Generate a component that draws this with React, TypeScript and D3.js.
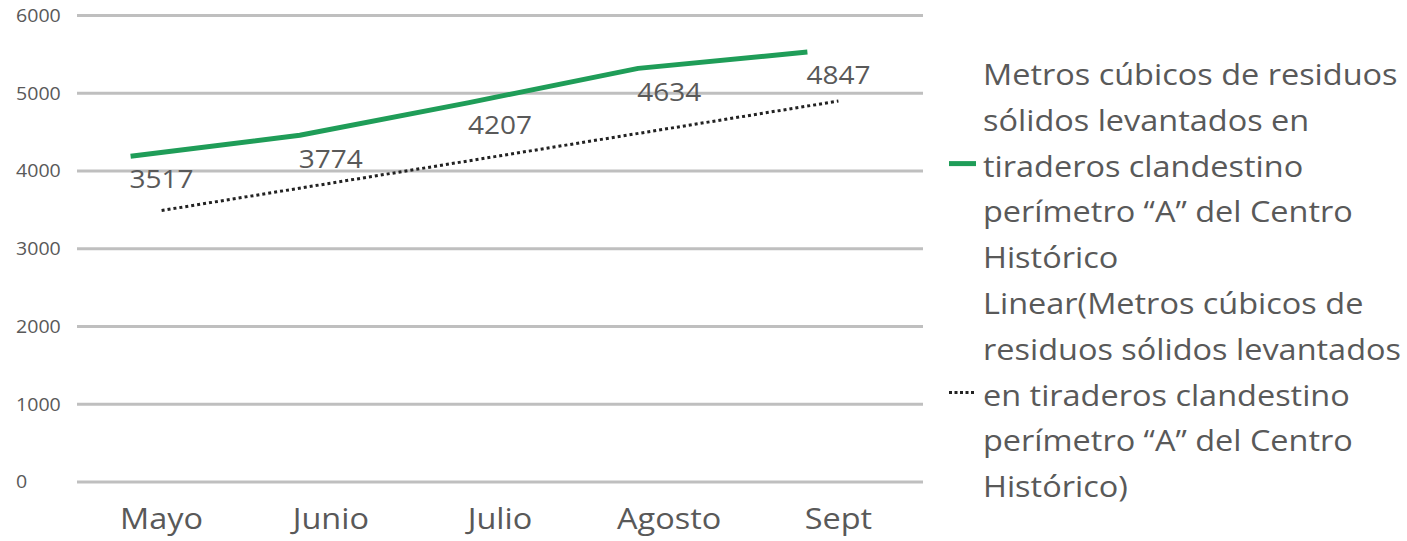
import { useEffect, useRef } from "react";
import * as d3 from "d3";

const months = ["Mayo", "Junio", "Julio", "Agosto", "Sept"];
// plotted green line
const lineValues = [4190, 4460, 4880, 5320, 5530];
// data labels as printed on the chart
const labelValues = [3517, 3774, 4207, 4634, 4847];
const yTicks = [0, 1000, 2000, 3000, 4000, 5000, 6000];

const legendMain = [
  "Metros cúbicos de residuos",
  "sólidos levantados en",
  "tiraderos clandestino",
  "perímetro “A” del Centro",
  "Histórico",
];
const legendTrend = [
  "Linear(Metros cúbicos de",
  "residuos sólidos levantados",
  "en tiraderos clandestino",
  "perímetro “A” del Centro",
  "Histórico)",
];

const W = 1407;
const H = 541;
const GREEN = "#1f9d58";
const TEXT = "#595959";
const FONT = "'Open Sans', 'DejaVu Sans', sans-serif";
// the original image is a little stretched sideways
const SX = 1.12;

export default function App() {
  const svgRef = useRef<SVGSVGElement>(null);

  useEffect(() => {
    if (!svgRef.current) return;
    const svg = d3.select(svgRef.current);
    svg.selectAll("*").remove();

    const x = d3.scaleBand<string>().domain(months).range([77, 923]).padding(0);
    const y = d3.scaleLinear().domain([0, 6000]).range([482, 15.5]);
    const cx = (m: string) => (x(m) ?? 0) + x.bandwidth() / 2;
    // the green series sits a little left of the category centres in the original
    const lineShift = 31;
    const at = (px: number, py: number) => `translate(${px},${py}) scale(${SX},1)`;

    // gridlines
    svg
      .append("g")
      .selectAll("line")
      .data(yTicks)
      .join("line")
      .attr("x1", 77)
      .attr("x2", 923)
      .attr("y1", (d) => y(d))
      .attr("y2", (d) => y(d))
      .attr("stroke", "#bfbfbf")
      .attr("stroke-width", 3);

    // y labels
    svg
      .append("g")
      .selectAll("text")
      .data(yTicks)
      .join("text")
      .attr("transform", (d) => at(16, y(d)))
      .attr("dy", "0.36em")
      .attr("font-family", FONT)
      .attr("font-size", 17.5)
      .attr("fill", TEXT)
      .text((d) => String(d));

    // x labels
    svg
      .append("g")
      .selectAll("text")
      .data(months)
      .join("text")
      .attr("transform", (d) => at(cx(d), 529))
      .attr("text-anchor", "middle")
      .attr("font-family", FONT)
      .attr("font-size", 29)
      .attr("fill", TEXT)
      .text((d) => d);

    // linear trendline of the labelled values
    const n = labelValues.length;
    const idx = d3.range(n);
    const mx = d3.mean(idx) as number;
    const my = d3.mean(labelValues) as number;
    const slope =
      d3.sum(idx, (i) => (i - mx) * (labelValues[i] - my)) /
      d3.sum(idx, (i) => (i - mx) ** 2);
    const trend = idx.map((i) => my + slope * (i - mx));

    svg
      .append("path")
      .datum(trend)
      .attr("fill", "none")
      .attr("stroke", "#222")
      .attr("stroke-width", 3)
      .attr("stroke-dasharray", "3 3")
      .attr(
        "d",
        d3
          .line<number>()
          .x((_, i) => cx(months[i]))
          .y((d) => y(d))
      );

    // green series
    svg
      .append("path")
      .datum(lineValues)
      .attr("fill", "none")
      .attr("stroke", GREEN)
      .attr("stroke-width", 5)
      .attr("stroke-linejoin", "round")
      .attr(
        "d",
        d3
          .line<number>()
          .x((_, i) => cx(months[i]) - lineShift)
          .y((d) => y(d))
      );

    // data labels
    svg
      .append("g")
      .selectAll("text")
      .data(labelValues)
      .join("text")
      .attr("transform", (d, i) => at(cx(months[i]), y(d) - 21))
      .attr("text-anchor", "middle")
      .attr("font-family", FONT)
      .attr("font-size", 25)
      .attr("fill", TEXT)
      .text((d) => String(d));

    // legend
    const lineH = 45.8;
    const legendX = 983;
    const firstBase = 85;
    const lg = svg.append("g").attr("font-family", FONT).attr("font-size", 29).attr("fill", TEXT);
    [...legendMain, ...legendTrend].forEach((t, i) => {
      lg.append("text")
        .attr("transform", at(legendX, firstBase + i * lineH))
        .text(t);
    });
    const keyY = (row: number) => firstBase + row * lineH - 13;
    lg.append("line")
      .attr("x1", 949)
      .attr("x2", 976)
      .attr("y1", keyY(2))
      .attr("y2", keyY(2))
      .attr("stroke", GREEN)
      .attr("stroke-width", 5);
    lg.append("line")
      .attr("x1", 949)
      .attr("x2", 976)
      .attr("y1", keyY(7))
      .attr("y2", keyY(7))
      .attr("stroke", "#222")
      .attr("stroke-width", 3)
      .attr("stroke-dasharray", "3 2.5");
  }, []);

  return (
    <svg
      ref={svgRef}
      width={W}
      height={H}
      viewBox={`0 0 ${W} ${H}`}
      style={{ position: "absolute", left: 0, top: 0, background: "#fff" }}
    />
  );
}
